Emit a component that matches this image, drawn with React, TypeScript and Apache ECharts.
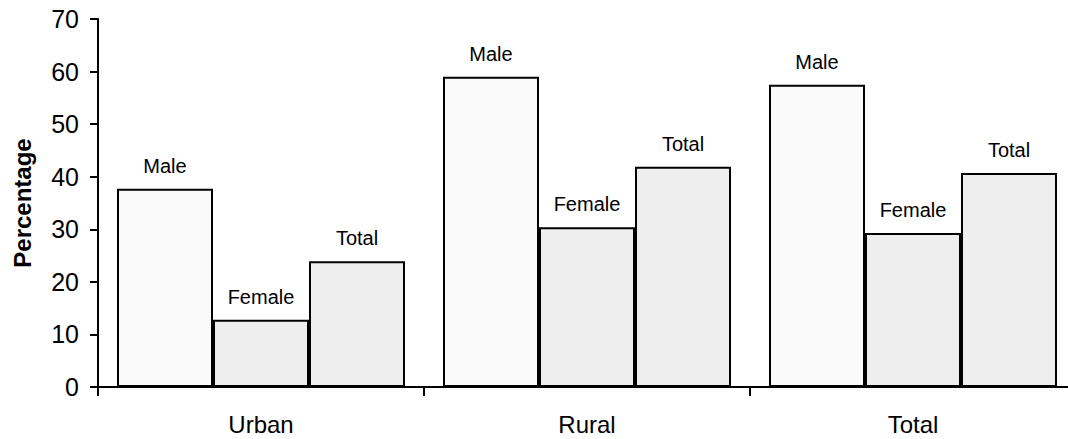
import React, { useEffect, useRef } from "react";
import * as echarts from "echarts";

const categories = ["Urban", "Rural", "Total"];
const maleValues = [37.7, 59.0, 57.5];
const femaleValues = [12.8, 30.4, 29.3];
const totalValues = [23.9, 41.9, 40.7];
const yTicks = { min: 0, max: 70, interval: 10 };

const FONT = "'Liberation Sans', Arial, sans-serif";

export default function App() {
  const ref = useRef<HTMLDivElement>(null);
  useEffect(() => {
    if (!ref.current) return;
    const chart = echarts.init(ref.current, null, { renderer: "svg" });
    const mkSeries = (name: string, data: number[], color: string) => ({
      name,
      type: "bar",
      data,
      barWidth: 96,
      barGap: "0%",
      itemStyle: { color, borderColor: "#000", borderWidth: 2 },
      label: {
        show: true,
        position: "top",
        distance: 13,
        formatter: name,
        color: "#000",
        fontSize: 20,
        fontFamily: FONT,
      },
    });
    chart.setOption({
      animation: false,
      backgroundColor: "#fff",
      grid: { left: 98, right: 8, top: 19, bottom: 52 },
      xAxis: {
        type: "category",
        data: categories,
        axisLine: { lineStyle: { color: "#000", width: 2 } },
        axisTick: { show: true, length: 9, lineStyle: { color: "#000", width: 2 } },
        axisLabel: { color: "#000", fontSize: 24, fontFamily: FONT, margin: 25 },
      },
      yAxis: {
        type: "value",
        min: yTicks.min,
        max: yTicks.max,
        interval: yTicks.interval,
        name: "Percentage",
        nameLocation: "middle",
        nameGap: 64,
        nameTextStyle: { color: "#000", fontSize: 24, fontWeight: "bold", fontFamily: FONT },
        splitLine: { show: false },
        axisLine: { show: true, lineStyle: { color: "#000", width: 2 } },
        axisTick: { show: true, length: 8, lineStyle: { color: "#000", width: 2 } },
        axisLabel: { color: "#000", fontSize: 25, fontFamily: FONT, margin: 19 },
      },
      series: [
        mkSeries("Male", maleValues, "#fafafa"),
        mkSeries("Female", femaleValues, "#eeeeee"),
        mkSeries("Total", totalValues, "#eeeeee"),
      ],
    });
    return () => chart.dispose();
  }, []);
  return (
    <div
      style={{
        position: "absolute",
        left: 0,
        top: 0,
        width: 1068,
        height: 439,
        overflow: "hidden",
      }}
    >
      <div ref={ref} style={{ width: 1084, height: 439 }} />
    </div>
  );
}
